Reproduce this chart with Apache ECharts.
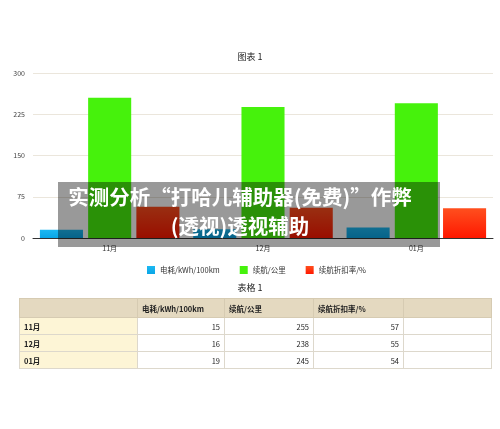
<!DOCTYPE html>
<html><head><meta charset="utf-8">
<script src="https://cdn.jsdelivr.net/npm/echarts@6/dist/echarts.min.js"></script>
<style>
html,body{margin:0;padding:0;background:#fff;width:500px;height:429px;overflow:hidden;font-family:"Noto Sans CJK SC","Noto Sans",sans-serif;}
#chart{position:absolute;left:0;top:0;width:500px;height:429px;}
#tbl{position:absolute;left:19px;top:298px;border-collapse:collapse;font-size:7.5px;color:#222;}
#tbl td{border:1px solid #ddd8cc;height:17px;padding:0 4px;box-sizing:border-box;}
#tbl tr.h td{background:#e4d9c0;font-weight:bold;height:19px;border-color:#d6cbb2;}
#tbl td.r{background:#fdf5d6;font-weight:bold;}
#tbl td.n{text-align:right;background:#fff;}
#banner{position:absolute;left:58px;top:182px;width:382px;height:65px;background:rgba(0,0,0,0.4);color:#fff;font-weight:bold;font-size:20.5px;text-align:center;line-height:29px;padding:0 18px 0 0;box-sizing:border-box;white-space:nowrap;}
</style></head>
<body>
<div id="chart"></div>
<table id="tbl"></table>
<div id="banner">实测分析“打哈儿辅助器(免费)”作弊<br>(透视)透视辅助</div>
<script>
const categories = ['11月','12月','01月'];
const seriesNames = ['电耗/kWh/100km','续航/公里','续航折扣率/%'];
const energy = [15,16,19];
const range = [255,238,245];
const discount = [57,55,54];
const yTicks = [0,75,150,225,300];

const chart = echarts.init(document.getElementById('chart'));
const font = '"Noto Sans CJK SC","Noto Sans",sans-serif';
chart.setOption({
  animation:false,
  title:{text:'图表 1',left:'center',top:47,textStyle:{fontSize:9,fontWeight:'normal',color:'#222',fontFamily:font}},
  legend:{top:261,left:142,itemWidth:8,itemHeight:8,itemGap:20,icon:'rect',
    itemStyle:{borderWidth:0},
    textStyle:{fontSize:7.5,color:'#333',fontFamily:font},data:seriesNames},
  grid:{left:33,right:7,top:73,bottom:191},
  xAxis:{type:'category',data:categories,axisTick:{show:false},
    axisLine:{lineStyle:{color:'#333',width:1}},
    axisLabel:{fontSize:7,color:'#333',margin:7,fontFamily:font}},
  yAxis:{type:'value',min:yTicks[0],max:yTicks[yTicks.length-1],interval:75,
    axisLabel:{fontSize:7,color:'#444',margin:8,fontFamily:font,align:'right'},
    splitLine:{lineStyle:{color:'#ebe6dc'}},axisLine:{show:false},axisTick:{show:false}},
  series:[
    {name:seriesNames[0],type:'bar',data:energy,barGap:'12%',barCategoryGap:'9%',
      itemStyle:{color:new echarts.graphic.LinearGradient(0,0,0,1,[{offset:0,color:'#1cb8f2'},{offset:1,color:'#0aa6e6'}])}},
    {name:seriesNames[1],type:'bar',data:range,
      itemStyle:{color:'#46f20c'}},
    {name:seriesNames[2],type:'bar',data:discount,
      itemStyle:{color:new echarts.graphic.LinearGradient(0,0,0,1,[{offset:0,color:'#ff4f1e'},{offset:1,color:'#ff1800'}])}}
  ]
});

const tbl = document.getElementById('tbl');
let html = '<tr class="h"><td style="width:118px"></td>' +
  seriesNames.map((n,i)=>'<td style="width:'+[87,89,90][i]+'px">'+n+'</td>').join('') +
  '<td style="width:88px"></td></tr>';
categories.forEach((c,i)=>{
  html += '<tr><td class="r">'+c+'</td><td class="n">'+energy[i]+'</td><td class="n">'+range[i]+'</td><td class="n">'+discount[i]+'</td><td class="n"></td></tr>';
});
tbl.innerHTML = html;
const t2 = document.createElement('div');
t2.textContent = '表格 1';
t2.style.cssText = 'position:absolute;left:0;width:500px;top:281px;text-align:center;font-size:9px;color:#222;';
document.body.appendChild(t2);
</script>
</body></html>
